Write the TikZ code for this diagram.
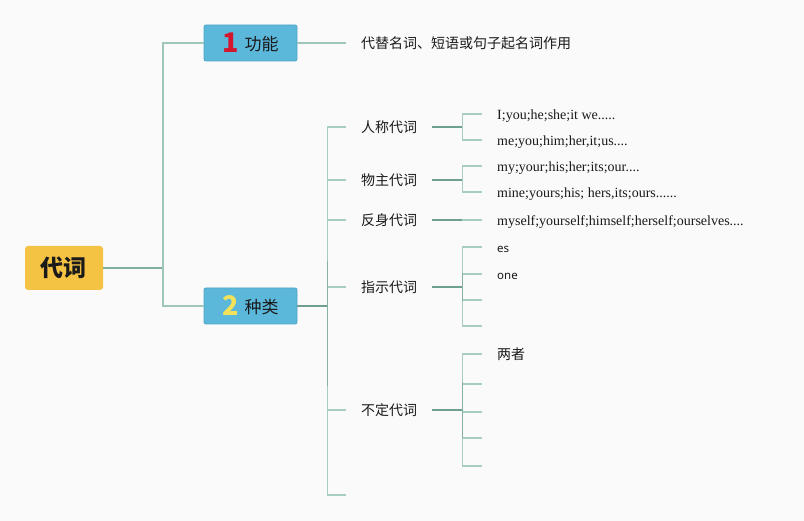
\documentclass[tikz,border=0pt]{standalone}
\usepackage{fontspec}
\setmainfont{Liberation Serif}
\newfontfamily\cjk{Noto Sans CJK SC}
\newfontfamily\sansf{Noto Sans}
\definecolor{bgc}{HTML}{FAFAFA}
\definecolor{rootc}{HTML}{F5C343}
\definecolor{boxc}{HTML}{5BB8DB}
\definecolor{boxd}{HTML}{4DA6C4}
\definecolor{numred}{HTML}{D3162E}
\definecolor{numyel}{HTML}{F3E25A}
\definecolor{lndark}{HTML}{6E9F8F}
\definecolor{lnlight}{HTML}{A6CDC1}
\definecolor{txt}{HTML}{1A1A1A}
\begin{document}
\begin{tikzpicture}[x=1pt,y=-1pt,
  rootbox/.style={fill=rootc,rounded corners=3pt,minimum width=78pt,minimum height=44pt,
    inner sep=0pt,font=\cjk\bfseries\fontsize{23}{26}\selectfont,text=txt},
  catbox/.style={fill=boxc,draw=boxd,line width=0.8pt,rounded corners=2pt,minimum width=93pt,
    minimum height=36pt,inner sep=0pt,font=\cjk\fontsize{17}{20}\selectfont,text=txt},
  lbl/.style={anchor=west,inner xsep=15pt,inner ysep=2pt,font=\cjk\fontsize{14}{16}\selectfont,text=txt},
  leaf/.style={anchor=west,inner xsep=15pt,inner ysep=2pt,text height=12pt,text depth=0pt,
    font=\fontsize{14}{16}\selectfont,text=txt},
  leafs/.style={anchor=west,inner xsep=15pt,inner ysep=2pt,text height=12pt,text depth=0pt,
    font=\sansf\fontsize{11.5}{14}\selectfont,text=txt},
  stub/.style={draw=lndark,line width=1.5pt},
  br/.style={draw=lnlight,line width=1.5pt},
  br0/.style={draw=lnlight!85!lndark,line width=1.5pt}
]
\fill[bgc] (0,0) rectangle (804,521);
\useasboundingbox (0,0) rectangle (804,521);

% root and categories
\node[rootbox] (root) at (64,268) {代词};
\node[catbox] (b1) at (250.5,43) {\raisebox{-1pt}{\cjk\bfseries\fontsize{27}{28}\selectfont\color{numred}1}\hspace{6pt}\raisebox{1pt}{功能}};
\node[catbox] (b2) at (250.5,306) {\raisebox{-1pt}{\cjk\bfseries\fontsize{27}{28}\selectfont\color{numyel}2}\hspace{6pt}\raisebox{1pt}{种类}};

\draw[stub,draw=lndark!70!lnlight] (root.east) -- ++(60,0) coordinate (j0);
\draw[br0] (j0) |- (b1.west);
\draw[br0] (j0) |- (b2.west);

% function
\node[lbl] (f1) at (346,43) {代替名词、短语或句子起名词作用};
\draw[br0] (b1.east) -- (b1.east -| f1.west);

% kinds
\node[lbl] (t1) at (346,127) {人称代词};
\node[lbl] (t2) at (346,180) {物主代词};
\node[lbl] (t3) at (346,220) {反身代词};
\node[lbl] (t4) at (346,287) {指示代词};
\node[lbl] (t5) at (346,410) {不定代词};
\coordinate (t6) at (346,495);

\draw[br] (b2.east) -- ++(30,0) coordinate (j2);
\foreach \t in {t1,t2,t3,t4,t5} \draw[br] (j2) |- (\t.west);
\draw[br] (j2) |- (t6);
\draw[stub] (b2.east) -- (j2);
\draw[stub,draw=lndark!60!lnlight] (j2) -- ++(0,-45);
\draw[stub,draw=lndark!60!lnlight] (j2) -- ++(0,80);

% personal
\node[leaf] (l11) at (482,114) {I;you;he;she;it we.....};
\node[leaf] (l12) at (482,140) {me;you;him;her,it;us....};
\draw[stub] (t1.east) -- ++(30,0) coordinate (j1);
\draw[br] (j1) |- (l11.west);
\draw[br] (j1) |- (l12.west);

% possessive
\node[leaf] (l21) at (482,166) {my;your;his;her;its;our....};
\node[leaf] (l22) at (482,192) {mine;yours;his; hers,its;ours......};
\draw[stub] (t2.east) -- ++(30,0) coordinate (jj2);
\draw[br] (jj2) |- (l21.west);
\draw[br] (jj2) |- (l22.west);

% reflexive
\node[leaf] (l31) at (482,220) {myself;yourself;himself;herself;ourselves....};
\draw[br] (t3.east) -- (t3.east -| l31.west);
\draw[stub] (t3.east) -- ++(30,0);

% demonstrative
\node[leafs] (l41) at (482,247) {es};
\node[leafs] (l42) at (482,274) {one};
\coordinate (l43) at (482,300);
\coordinate (l44) at (482,326);
\draw[stub] (t4.east) -- ++(30,0) coordinate (j4);
\foreach \l in {l41,l42} \draw[br] (j4) |- (\l.west);
\foreach \l in {l43,l44} \draw[br] (j4) |- (\l);
\draw[stub,draw=lndark!60!lnlight] (j4) -- ++(0,-14);
\draw[stub,draw=lndark!60!lnlight] (j4) -- ++(0,14);

% indefinite
\node[lbl] (l51) at (482,354) {两者};
\coordinate (l52) at (482,384);
\coordinate (l53) at (482,412);
\coordinate (l54) at (482,438);
\coordinate (l55) at (482,466);
\draw[stub] (t5.east) -- ++(30,0) coordinate (j5);
\draw[br] (j5) |- (l51.west);
\foreach \l in {l52,l53,l54,l55} \draw[br] (j5) |- (\l);
\draw[stub,draw=lndark!60!lnlight] (j5) -- ++(0,-28);
\draw[stub,draw=lndark!60!lnlight] (j5) -- ++(0,28);
\end{tikzpicture}
\end{document}
